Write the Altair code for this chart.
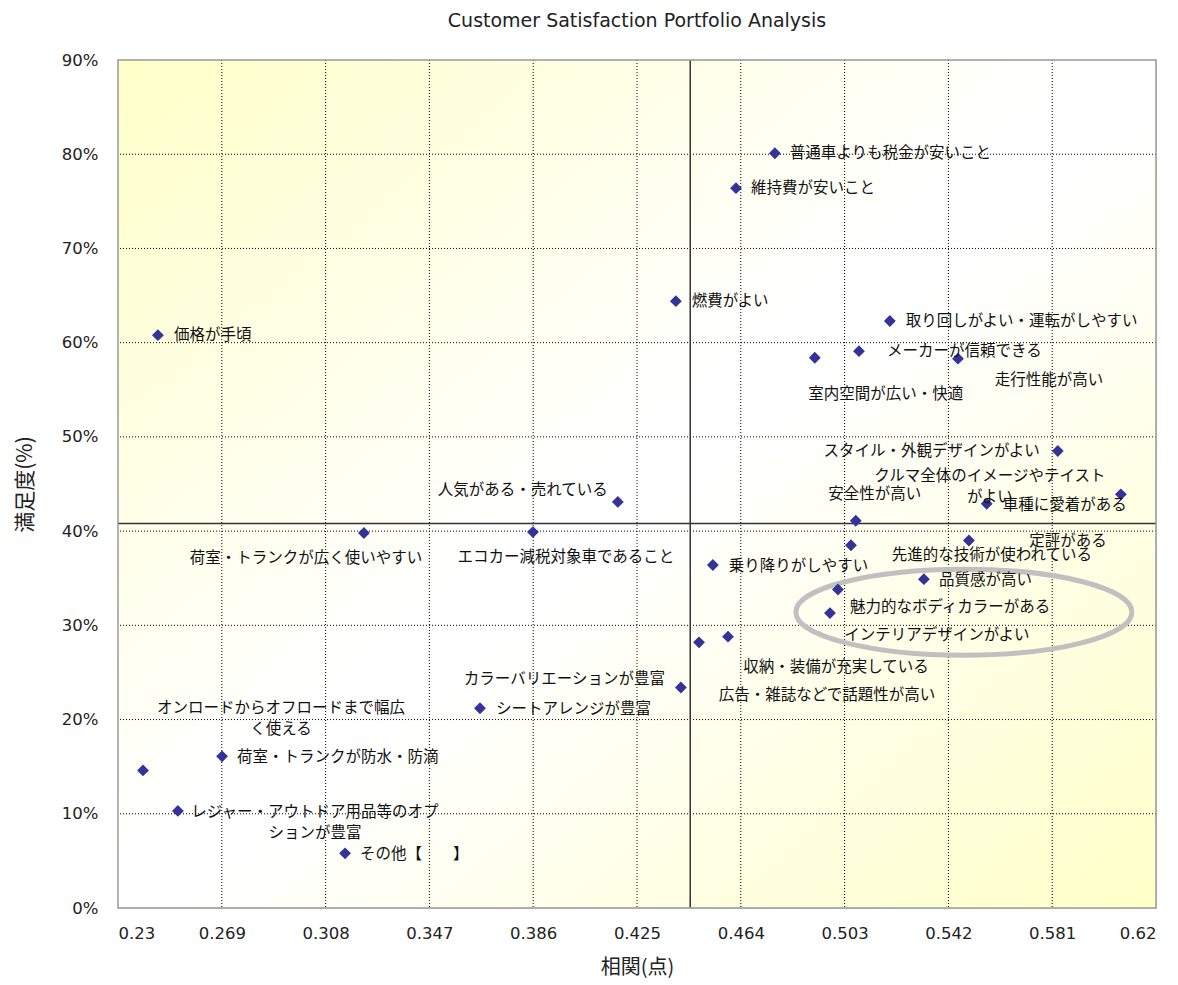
import altair as alt
import pandas as pd

# ---------------- data ----------------
labels = [
    "普通車よりも税金が安いこと",
    "維持費が安いこと",
    "燃費がよい",
    "価格が手頃",
    "取り回しがよい・運転がしやすい",
    "メーカーが信頼できる",
    "室内空間が広い・快適",
    "走行性能が高い",
    "スタイル・外観デザインがよい",
    "クルマ全体のイメージやテイスト\nがよい",
    "車種に愛着がある",
    "安全性が高い",
    "人気がある・売れている",
    "荷室・トランクが広く使いやすい",
    "エコカー減税対象車であること",
    "乗り降りがしやすい",
    "先進的な技術が使われている",
    "定評がある",
    "品質感が高い",
    "魅力的なボディカラーがある",
    "インテリアデザインがよい",
    "収納・装備が充実している",
    "広告・雑誌などで話題性が高い",
    "カラーバリエーションが豊富",
    "シートアレンジが豊富",
    "オンロードからオフロードまで幅広\nく使える",
    "荷室・トランクが防水・防滴",
    "レジャー・アウトドア用品等のオプ\nションが豊富",
    "その他【　　】",
]
corr = [0.4768, 0.4622, 0.4396, 0.2450, 0.5200, 0.5084, 0.4918, 0.5456,
        0.5831, 0.6068, 0.5564, 0.5072, 0.4178, 0.3224, 0.3859, 0.4535,
        0.5054, 0.5497, 0.5328, 0.5005, 0.4975, 0.4592, 0.4483, 0.4415,
        0.3660, 0.2394, 0.2691, 0.2525, 0.3153]
sat = [80.1, 76.4, 64.4, 60.8, 62.3, 59.1, 58.4, 58.3,
       48.5, 43.9, 42.9, 41.1, 43.1, 39.8, 39.9, 36.4,
       38.5, 39.0, 34.9, 33.8, 31.3, 28.8, 28.2, 23.4,
       21.2, 14.6, 16.1, 10.3, 5.8]

# label placement (pixel offsets from the marker)
label_align = ["left", "left", "left", "left", "left", "left", "center", "center",
               "right", "center", "left", "center", "right", "center", "center", "left",
               "center", "center", "left", "left", "center", "center", "center", "right",
               "left", "center", "left", "center", "left"]
label_dx = [15, 15, 16, 16, 16, 28, 71, 91,
            -18, -131, 16, 19, -10, -58, 33, 16,
            141, 99, 15, 12, 107, 108, 128, -16,
            16, 138, 15, 137, 15]
label_dy = [0, 0, 0, 0, 0, 0, 36, 21,
            0, -18, 1, -27, -12, 25, 25, 1,
            10, 0, 1, 17, 22, 30, 53, -9,
            1, -62, 1, 1, 1]

x_ticks = [0.23, 0.269, 0.308, 0.347, 0.386, 0.425, 0.464, 0.503, 0.542, 0.581, 0.62]
y_ticks = [0, 10, 20, 30, 40, 50, 60, 70, 80, 90]
x_ref = [0.445]
y_ref = [40.8]
highlight_corr = [0.5478]
highlight_sat = [31.4]

# ---------------- layout ----------------
W, H = 1038, 848
FONT = "Noto Sans CJK JP"
NUMFONT = "DejaVu Sans"

df = pd.DataFrame({"corr": corr, "sat": sat, "label": labels,
                   "align": label_align, "dx": label_dx, "dy": label_dy})
xgrid = pd.DataFrame({"corr": x_ticks[1:-1]})
ygrid = pd.DataFrame({"sat": y_ticks[1:-1]})
xref_df = pd.DataFrame({"corr": x_ref})
yref_df = pd.DataFrame({"sat": y_ref})
hl_df = pd.DataFrame({"corr": highlight_corr, "sat": highlight_sat})
one = pd.DataFrame({"a": [0]})

xs = alt.Scale(domain=[x_ticks[0], x_ticks[-1]], nice=False, zero=False)
ys = alt.Scale(domain=[y_ticks[0], y_ticks[-1]], nice=False, zero=False)

x_axis = alt.Axis(values=x_ticks, format=".3~f", title="相関(点)", grid=False,
                  ticks=False, domain=False, labelFont=NUMFONT, labelFontSize=16.5,
                  labelColor="#222222", labelPadding=17, titleFont=FONT,
                  titleFontSize=20, titleFontWeight="normal", titleColor="#222222",
                  titlePadding=16)
y_axis = alt.Axis(values=y_ticks, labelExpr="datum.value + '%'", title="満足度(%)",
                  grid=False, ticks=False, domain=False, labelFont=NUMFONT,
                  labelFontSize=16.5, labelColor="#222222", labelPadding=20,
                  titleFont=FONT, titleFontSize=21, titleFontWeight="normal",
                  titleColor="#222222", titlePadding=26)


def X():
    return alt.X("corr:Q", scale=xs, axis=x_axis)


def Y():
    return alt.Y("sat:Q", scale=ys, axis=y_axis)


bg = alt.Chart(one).mark_rect(
    fill=alt.LinearGradient(
        gradient="linear", x1=0, y1=0, x2=1, y2=1,
        stops=[alt.GradientStop(offset=0, color="#ffffc8"),
               alt.GradientStop(offset=0.47, color="#ffffff"),
               alt.GradientStop(offset=0.53, color="#ffffff"),
               alt.GradientStop(offset=1, color="#ffffc8")])
).encode(x=alt.value(0), x2=alt.value(W), y=alt.value(0), y2=alt.value(H))

gx = alt.Chart(xgrid).mark_rule(color="#000000", strokeWidth=1, strokeDash=[1, 2]).encode(x=X())
gy = alt.Chart(ygrid).mark_rule(color="#000000", strokeWidth=1, strokeDash=[1, 2]).encode(y=Y())

rx = alt.Chart(xref_df).mark_rule(color="#333333", strokeWidth=1.5).encode(x=X())
ry = alt.Chart(yref_df).mark_rule(color="#333333", strokeWidth=1.5).encode(y=Y())

ellipse_path = ("M-1,0 C-1,-0.1414 -0.5523,-0.256 0,-0.256 "
                "C0.5523,-0.256 1,-0.1414 1,0 "
                "C1,0.1414 0.5523,0.256 0,0.256 "
                "C-0.5523,0.256 -1,0.1414 -1,0 Z")
ell = alt.Chart(hl_df).mark_point(
    shape=ellipse_path, size=336 * 336, filled=False, stroke="#c0c0c0",
    strokeWidth=5, opacity=1
).encode(x=X(), y=Y())

pts = alt.Chart(df).mark_point(
    shape="diamond", filled=True, size=140, color="#333399", opacity=1
).encode(x=X(), y=Y())

txt = alt.Chart(df).mark_text(
    font=FONT, fontSize=15.5, color="#111111", baseline="middle", lineBreak="\n",
    lineHeight=21,
    align=alt.ExprRef(expr="datum.align"),
    dx=alt.ExprRef(expr="datum.dx"), dy=alt.ExprRef(expr="datum.dy")
).encode(x=X(), y=Y(), text="label:N")

border = alt.Chart(one).mark_rect(fillOpacity=0, stroke="#999999", strokeWidth=1.5).encode(
    x=alt.value(0), x2=alt.value(W), y=alt.value(0), y2=alt.value(H))

chart = alt.layer(bg, gx, gy, rx, ry, ell, pts, txt, border).properties(
    width=W, height=H,
    title=alt.TitleParams("Customer Satisfaction Portfolio Analysis", font=NUMFONT,
                          fontSize=19, fontWeight="normal", color="#222222",
                          anchor="middle", offset=21),
    padding={"left": 110, "top": 52, "right": 14, "bottom": 76},
    autosize=alt.AutoSizeParams(type="none"),
).configure_view(stroke=None).configure(background="#ffffff")

chart.save("out.html", embed_options={"renderer": "svg", "actions": False})
